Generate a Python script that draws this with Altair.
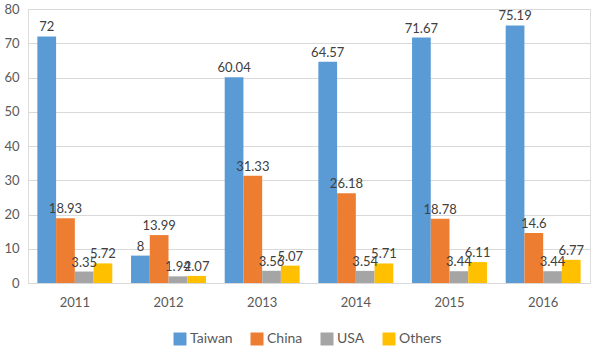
import altair as alt
import pandas as pd

years = ["2011", "2012", "2013", "2014", "2015", "2016"]
series = ["Taiwan", "China", "USA", "Others"]
taiwan = [72, 8, 60.04, 64.57, 71.67, 75.19]
china = [18.93, 13.99, 31.33, 26.18, 18.78, 14.6]
usa = [3.35, 1.94, 3.56, 3.54, 3.44, 3.44]
others = [5.72, 2.07, 5.07, 5.71, 6.11, 6.77]
colors = ["#5B9BD5", "#ED7D31", "#A5A5A5", "#FFC000"]

rows = []
for s, vals in zip(series, [taiwan, china, usa, others]):
    for y, v in zip(years, vals):
        rows.append({"year": y, "series": s, "value": v, "label": f"{v:g}"})
df = pd.DataFrame(rows)

FONT = "Lato"

x = alt.X("year:N", sort=years, title=None,
          scale=alt.Scale(paddingInner=0.2, paddingOuter=0.1),
          axis=alt.Axis(labelAngle=0, ticks=False, domain=True, domainColor="#D9D9D9",
                        labelFontSize=13, labelColor="#595959", labelPadding=13, labelFont=FONT))
xo = alt.XOffset("series:N", sort=series, scale=alt.Scale(paddingInner=0, paddingOuter=0))
y = alt.Y("value:Q", title=None,
          scale=alt.Scale(domain=[0, 80]),
          axis=alt.Axis(values=list(range(0, 81, 10)), ticks=False, domain=False,
                        gridColor="#D9D9D9", labelFontSize=13, labelColor="#595959",
                        labelPadding=9, labelFont=FONT))

bars = alt.Chart(df).mark_bar().encode(
    x=x, xOffset=xo, y=y,
    color=alt.Color("series:N", sort=series,
                    scale=alt.Scale(domain=series, range=colors),
                    legend=alt.Legend(title=None, orient="none", direction="horizontal",
                                      legendX=145, legendY=323, symbolType="square",
                                      symbolSize=169, symbolStrokeWidth=0,
                                      labelFontSize=14, labelColor="#595959",
                                      labelFont=FONT, columnPadding=17, labelOffset=3)),
)

text = alt.Chart(df).mark_text(dy=-9, fontSize=13, color="#404040", font=FONT).encode(
    x=x, xOffset=xo, y=y, text="label:N",
)

chart = (bars + text).properties(
    width=562, height=274,
    autosize=alt.AutoSizeParams(type="none"),
    padding={"left": 28, "top": 9, "right": 4, "bottom": 70},
).configure_view(stroke=None).configure(background="white")

chart.save("out.html", embed_options={"renderer": "svg", "actions": False})
